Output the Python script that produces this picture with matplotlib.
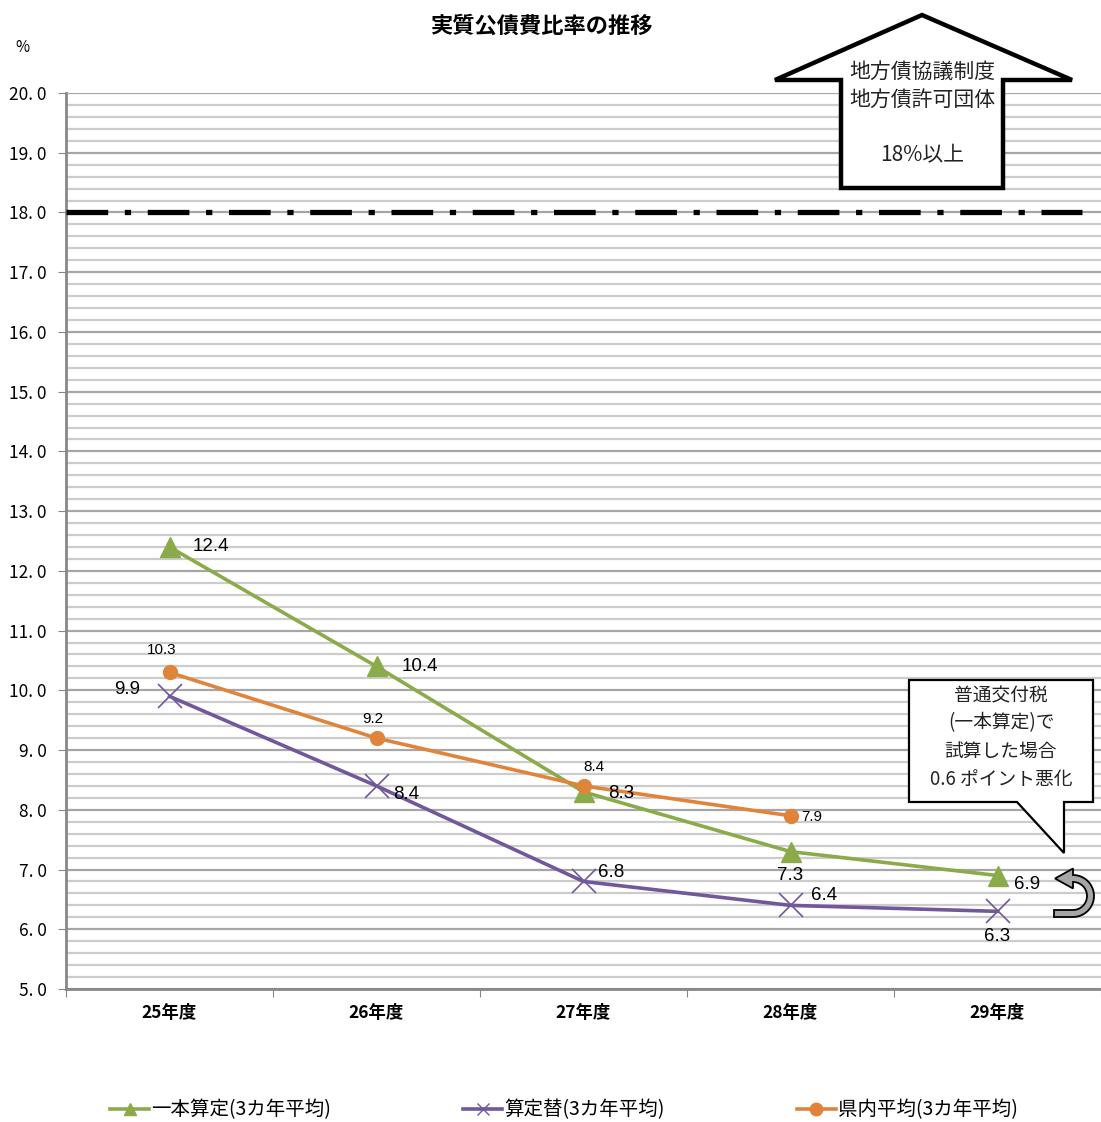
import numpy as np
import matplotlib
matplotlib.use("Agg")
import matplotlib.pyplot as plt
from matplotlib.patches import Polygon
from matplotlib.lines import Line2D

plt.rcParams['font.family'] = ['Noto Sans CJK JP', 'DejaVu Sans']
plt.rcParams['lines.scale_dashes'] = False

years = ['25年度', '26年度', '27年度', '28年度', '29年度']
ippon = [12.4, 10.4, 8.3, 7.3, 6.9]          # 一本算定(3カ年平均)
santeigae = [9.9, 8.4, 6.8, 6.4, 6.3]        # 算定替(3カ年平均)
kennai = [10.3, 9.2, 8.4, 7.9]               # 県内平均(3カ年平均)
limit = 18.0

c_green = '#8BAA4A'
c_purple = '#70589A'
c_orange = '#E0843C'

W, H = 1101, 1122
fig = plt.figure(figsize=(W / 100, H / 100), dpi=100)
ax = fig.add_axes([66 / W, 1 - 989 / H, (W - 66) / W, (989 - 93) / H])

x = np.arange(len(years))
ax.plot(x, ippon, color=c_green, lw=2.6, marker='^', ms=15, zorder=4)
ax.plot(x, santeigae, color=c_purple, lw=2.6, marker='x', ms=17, mew=1.2, zorder=4)
ax.plot(x[:len(kennai)], kennai, color=c_orange, lw=2.6, marker='o', ms=10, zorder=5)

ax.plot([-0.5, 4.41], [limit, limit], color='black', lw=3.8,
        dashes=(30, 12, 4.5, 12), zorder=3, solid_capstyle='butt', dash_capstyle='butt')

ax.set_xlim(-0.5, (W - 170) / 208)
ax.set_ylim(5, 20)
ax.set_yticks(np.arange(5, 20.1, 1))
ax.set_yticklabels(['%d. 0' % v for v in range(5, 21)], fontsize=12.5)
ax.set_yticks(np.arange(5, 20.01, 0.2), minor=True)
ax.yaxis.grid(True, which='minor', color='#cccccc', lw=1.6)
ax.yaxis.grid(True, which='major', color='#a6a6a6', lw=1.6)
ax.set_axisbelow(True)
ax.tick_params(axis='y', which='minor', length=0)
ax.tick_params(axis='y', which='major', length=6, color='#888888', pad=8)

ax.set_xticks(np.arange(-0.5, 4.6, 1))
ax.set_xticklabels([])
ax.set_xticks(x, years, minor=True)
ax.tick_params(axis='x', which='major', length=6, color='#888888')
ax.tick_params(axis='x', which='minor', length=0, pad=11, labelsize=12.5)
for lbl in ax.get_xticklabels(minor=True):
    lbl.set_fontweight('bold')

for s in ['top', 'right']:
    ax.spines[s].set_visible(False)
for s in ['left', 'bottom']:
    ax.spines[s].set_color('#888888')
    ax.spines[s].set_linewidth(2)

# data labels
lab = dict(fontsize=13.5, family=['Liberation Sans', 'DejaVu Sans'], zorder=6)
small = dict(fontsize=11, family=['Liberation Sans', 'DejaVu Sans'], zorder=6)
g_off = [(0.11, 0.0, 'left'), (0.12, 0.0, 'left'), (0.12, -0.02, 'left'), (0.0, -0.4, 'center'), (0.08, -0.15, 'left')]
for i, (dx, dy, ha) in enumerate(g_off):
    ax.text(x[i] + dx, ippon[i] + dy, '%.1f' % ippon[i], ha=ha, va='center', **lab)
p_off = [(-0.14, 0.12, 'right'), (0.08, -0.15, 'left'), (0.07, 0.15, 'left'), (0.1, 0.17, 'left'), (0.0, -0.42, 'center')]
for i, (dx, dy, ha) in enumerate(p_off):
    ax.text(x[i] + dx, santeigae[i] + dy, '%.1f' % santeigae[i], ha=ha, va='center', **lab)
o_off = [(-0.04, 0.38, 'center'), (-0.02, 0.32, 'center'), (0.05, 0.32, 'center'), (0.05, -0.02, 'left')]
for i, (dx, dy, ha) in enumerate(o_off):
    ax.text(x[i] + dx, kennai[i] + dy, '%.1f' % kennai[i], ha=ha, va='center', **small)

def F(px, py):
    return (px / W, 1 - py / H)

fig.text(*F(541, 26), '実質公債費比率の推移', ha='center', va='center', fontsize=16, fontweight='bold')
fig.text(*F(22, 48), '%', ha='center', va='center', fontsize=11)

# upward arrow annotation
arrow_pts = [F(922, 15), F(1072, 80), F(1003, 80), F(1003, 188), F(841, 188), F(841, 80), F(775, 80)]
fig.patches.append(Polygon(arrow_pts, closed=True, facecolor='white', edgecolor='black',
                           lw=3.2, transform=fig.transFigure, zorder=10, joinstyle='miter'))
for ty, t in [(72, '地方債協議制度'), (100, '地方債許可団体'), (155, '18%以上')]:
    fig.text(*F(922, ty), t, ha='center', va='center', fontsize=15, color='#222222', zorder=11)

# callout box
call_pts = [F(909, 680), F(1093, 680), F(1093, 802), F(1064, 802), F(1064, 853), F(1017, 802), F(909, 802)]
fig.patches.append(Polygon(call_pts, closed=True, facecolor='white', edgecolor='black',
                           lw=1.6, transform=fig.transFigure, zorder=10))
for ty, t in [(696, '普通交付税'), (723, '(一本算定)で'), (751, '試算した場合'), (779, '0.6 ポイント悪化')]:
    fig.text(*F(1001, ty), t, ha='center', va='center', fontsize=13.5, color='#222222', zorder=11)

# curved grey arrow (U-turn pointing left)
cx, cy, r, w = 1073, 896, 17.5, 3.5
th = np.linspace(np.pi / 2, -np.pi / 2, 30)
outer = [(cx + (r + w) * np.cos(t), cy + (r + w) * np.sin(t)) for t in th]
inner = [(cx + (r - w) * np.cos(t), cy + (r - w) * np.sin(t)) for t in th[::-1]]
pts = [(1054, cy + r + w)] + outer + [(cx, cy - r - 10), (1055, cy - r), (cx, cy - r + 10)] + inner + [(1054, cy + r - w)]
fig.patches.append(Polygon([F(px, py) for px, py in pts], closed=True, facecolor='#a6a6a6',
                           edgecolor='black', lw=1.3, transform=fig.transFigure, zorder=10))

handles = [Line2D([], [], color=c_green, lw=2.6, marker='^', ms=9),
           Line2D([], [], color=c_purple, lw=2.6, marker='x', ms=9, mew=1),
           Line2D([], [], color=c_orange, lw=2.6, marker='o', ms=9)]
names = ['一本算定(3カ年平均)', '算定替(3カ年平均)', '県内平均(3カ年平均)']
fig.legend(handles, names, loc='center', bbox_to_anchor=(564 / W, 1 - 1110 / H), ncol=3,
           frameon=False, fontsize=14, handlelength=2.0, handletextpad=0.1, columnspacing=6.8)

fig.savefig('out.png', dpi=100)
